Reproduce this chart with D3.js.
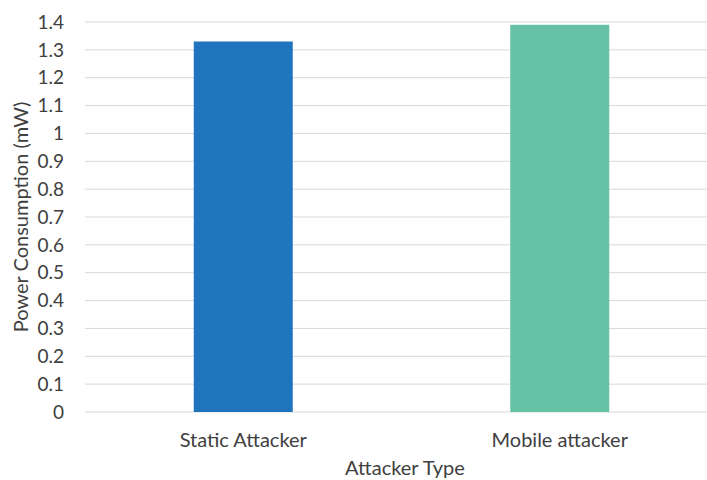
<!DOCTYPE html>
<html>
<head>
<meta charset="utf-8">
<script src="https://cdn.jsdelivr.net/npm/d3@7"></script>
<style>
  body { margin: 0; background: #fff; }
  text { font-family: Lato, "Open Sans", sans-serif; fill: #404040; }
</style>
</head>
<body>
<div id="chart"></div>
<script>
let categories = ["Static Attacker", "Mobile attacker"];
let values = [1.33, 1.39];
let colors = ["#1f74bd", "#66c2a5"];
let yTicks = [0, 0.1, 0.2, 0.3, 0.4, 0.5, 0.6, 0.7, 0.8, 0.9, 1, 1.1, 1.2, 1.3, 1.4];

let width = 707, height = 480;
let plot = { left: 85, right: 718, top: 22, bottom: 412 };

let svg = d3.select("#chart")
    .append("svg")
    .attr("width", width)
    .attr("height", height);

let x = d3.scaleBand()
    .domain(categories)
    .range([plot.left, plot.right])
    .paddingInner(0)
    .paddingOuter(0);

let y = d3.scaleLinear()
    .domain([0, 1.4])
    .range([plot.bottom, plot.top]);

// gridlines
svg.append("g")
    .selectAll("line")
    .data(yTicks)
    .enter()
    .append("line")
    .attr("x1", plot.left)
    .attr("x2", width)
    .attr("y1", d => y(d))
    .attr("y2", d => y(d))
    .attr("stroke", "#d9d9d9")
    .attr("stroke-width", 1);

// bars
let barW = 99;
svg.append("g")
    .selectAll("rect")
    .data(values)
    .enter()
    .append("rect")
    .attr("x", (d, i) => x(categories[i]) + x.bandwidth() / 2 - barW / 2)
    .attr("width", barW)
    .attr("y", d => y(d))
    .attr("height", d => y(0) - y(d))
    .attr("fill", (d, i) => colors[i]);

// y tick labels
svg.append("g")
    .selectAll("text")
    .data(yTicks)
    .enter()
    .append("text")
    .attr("x", 64)
    .attr("y", d => y(d))
    .attr("dy", "0.35em")
    .style("text-anchor", "end")
    .style("font-size", "19px")
    .text(d => d);

// category labels
svg.append("g")
    .selectAll("text")
    .data(categories)
    .enter()
    .append("text")
    .attr("x", d => x(d) + x.bandwidth() / 2)
    .attr("y", 447)
    .style("text-anchor", "middle")
    .style("font-size", "20px")
    .text(d => d);

// axis titles
svg.append("text")
    .attr("x", 405)
    .attr("y", 475)
    .style("text-anchor", "middle")
    .style("font-size", "20px")
    .text("Attacker Type");

svg.append("text")
    .attr("transform", `translate(28, ${(plot.top + plot.bottom) / 2}) rotate(-90)`)
    .style("text-anchor", "middle")
    .style("font-size", "20px")
    .text("Power Consumption (mW)");
</script>
</body>
</html>
